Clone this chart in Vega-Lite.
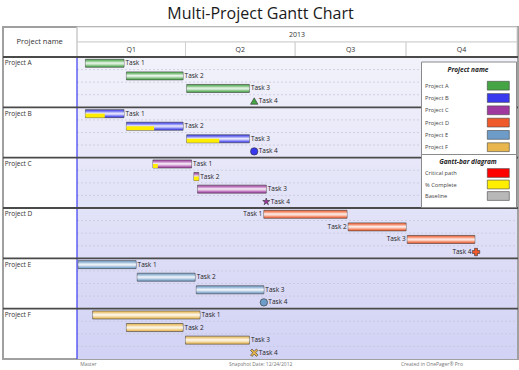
{
  "$schema": "https://vega.github.io/schema/vega-lite/v6.json",
  "background": "white",
  "padding": {"left": 1, "right": 1, "top": 6, "bottom": 0},
  "bounds": "flush",
  "title": {"text": "Multi-Project Gantt Chart", "font": "Open Sans", "fontSize": 16, "fontWeight": "normal", "color": "#1a1a1a", "anchor": "middle", "offset": 3.5},
  "spacing": 0,
  "config": {
    "font": "Open Sans",
    "view": {"stroke": "#a0a0a0", "strokeWidth": 2},
    "legend": {"labelFont": "Open Sans", "titleFont": "Open Sans"}
  },
  "datasets": {
    "header": [
      {"level": "year", "label": "2013", "start": "2013-01-01", "end": "2014-01-01"},
      {"level": "quarter", "label": "Q1", "start": "2013-01-01", "end": "2013-04-01"},
      {"level": "quarter", "label": "Q2", "start": "2013-04-01", "end": "2013-07-01"},
      {"level": "quarter", "label": "Q3", "start": "2013-07-01", "end": "2013-10-01"},
      {"level": "quarter", "label": "Q4", "start": "2013-10-01", "end": "2014-01-01"}
    ],
    "tasks": [
      {"project": "Project A", "task": "Task 1", "row": "Project A / Task 1", "kind": "bar", "start": "2013-01-08", "end": "2013-02-09"},
      {"project": "Project A", "task": "Task 2", "row": "Project A / Task 2", "kind": "bar", "start": "2013-02-11", "end": "2013-03-30"},
      {"project": "Project A", "task": "Task 3", "row": "Project A / Task 3", "kind": "bar", "start": "2013-04-02", "end": "2013-05-24"},
      {"project": "Project A", "task": "Task 4", "row": "Project A / Task 4", "kind": "milestone", "start": "2013-05-28", "end": "2013-05-28"},
      {"project": "Project B", "task": "Task 1", "row": "Project B / Task 1", "kind": "bar", "start": "2013-01-08", "end": "2013-02-09", "done": "2013-01-24"},
      {"project": "Project B", "task": "Task 2", "row": "Project B / Task 2", "kind": "bar", "start": "2013-02-11", "end": "2013-03-30", "done": "2013-03-06"},
      {"project": "Project B", "task": "Task 3", "row": "Project B / Task 3", "kind": "bar", "start": "2013-04-02", "end": "2013-05-24", "done": "2013-04-29"},
      {"project": "Project B", "task": "Task 4", "row": "Project B / Task 4", "kind": "milestone", "start": "2013-05-28", "end": "2013-05-28"},
      {"project": "Project C", "task": "Task 1", "row": "Project C / Task 1", "kind": "bar", "start": "2013-03-05", "end": "2013-04-06", "done": "2013-03-09"},
      {"project": "Project C", "task": "Task 2", "row": "Project C / Task 2", "kind": "bar", "start": "2013-04-08", "end": "2013-04-12", "done": "2013-04-12"},
      {"project": "Project C", "task": "Task 3", "row": "Project C / Task 3", "kind": "bar", "start": "2013-04-11", "end": "2013-06-07"},
      {"project": "Project C", "task": "Task 4", "row": "Project C / Task 4", "kind": "milestone", "start": "2013-06-07", "end": "2013-06-07"},
      {"project": "Project D", "task": "Task 1", "row": "Project D / Task 1", "kind": "bar", "start": "2013-06-05", "end": "2013-08-13"},
      {"project": "Project D", "task": "Task 2", "row": "Project D / Task 2", "kind": "bar", "start": "2013-08-14", "end": "2013-10-01"},
      {"project": "Project D", "task": "Task 3", "row": "Project D / Task 3", "kind": "bar", "start": "2013-10-02", "end": "2013-11-27"},
      {"project": "Project D", "task": "Task 4", "row": "Project D / Task 4", "kind": "milestone", "start": "2013-11-28", "end": "2013-11-28"},
      {"project": "Project E", "task": "Task 1", "row": "Project E / Task 1", "kind": "bar", "start": "2013-01-02", "end": "2013-02-19"},
      {"project": "Project E", "task": "Task 2", "row": "Project E / Task 2", "kind": "bar", "start": "2013-02-20", "end": "2013-04-09"},
      {"project": "Project E", "task": "Task 3", "row": "Project E / Task 3", "kind": "bar", "start": "2013-04-10", "end": "2013-06-05"},
      {"project": "Project E", "task": "Task 4", "row": "Project E / Task 4", "kind": "milestone", "start": "2013-06-05", "end": "2013-06-05"},
      {"project": "Project F", "task": "Task 1", "row": "Project F / Task 1", "kind": "bar", "start": "2013-01-14", "end": "2013-04-13"},
      {"project": "Project F", "task": "Task 2", "row": "Project F / Task 2", "kind": "bar", "start": "2013-02-11", "end": "2013-03-30"},
      {"project": "Project F", "task": "Task 3", "row": "Project F / Task 3", "kind": "bar", "start": "2013-04-01", "end": "2013-05-24"},
      {"project": "Project F", "task": "Task 4", "row": "Project F / Task 4", "kind": "milestone", "start": "2013-05-28", "end": "2013-05-28"}
    ]
  },
  "vconcat": [
    {
      "width": 515,
      "height": 30,
      "data": {"name": "header"},
      "layer": [
        {
          "mark": {"type": "rect", "fill": "white", "stroke": "#d0d0d0", "strokeWidth": 1},
          "encoding": {
            "x": {"field": "start", "type": "temporal", "axis": null,
                  "scale": {"type": "utc", "domain": [{"year": 2013, "month": 1, "date": 1, "utc": true}, {"year": 2014, "month": 1, "date": 1, "utc": true}], "range": [74, 514]}},
            "x2": {"field": "end"},
            "y": {"field": "level", "type": "nominal", "axis": null, "scale": {"domain": ["year", "quarter"], "paddingInner": 0, "paddingOuter": 0}}
          }
        },
        {
          "transform": [{"filter": "datum.level == 'quarter'"}],
          "mark": {"type": "text", "fontSize": 7, "color": "#333", "baseline": "middle"},
          "encoding": {
            "x": {"field": "start", "type": "temporal", "timeUnit": "utcyearquarter", "bandPosition": 0.5, "axis": null},
            "y": {"field": "level", "type": "nominal", "axis": null},
            "text": {"field": "label"}
          }
        },
        {
          "transform": [{"filter": "datum.level == 'year'"}],
          "mark": {"type": "text", "fontSize": 7, "color": "#333", "baseline": "middle"},
          "encoding": {
            "x": {"field": "start", "type": "temporal", "timeUnit": "utcyear", "bandPosition": 0.5, "axis": null},
            "y": {"field": "level", "type": "nominal", "axis": null},
            "text": {"field": "label"}
          }
        },
        {
          "data": {"values": [{"label": "Project name"}]},
          "mark": {"type": "text", "fontSize": 7.5, "color": "#333", "baseline": "middle"},
          "encoding": {
            "x": {"datum": {"year": 2012, "month": 12, "date": 1, "utc": true}, "type": "temporal"},
            "text": {"field": "label"}
          }
        },
        {
          "data": {"values": [{}]},
          "mark": {"type": "rule", "color": "#c8c8c8", "strokeWidth": 1},
          "encoding": {
            "x": {"datum": {"year": 2013, "month": 1, "date": 1, "utc": true}, "type": "temporal"}
          }
        }
      ]
    },
    {
      "width": 515,
      "height": 302,
      "data": {"name": "tasks"},
      "resolve": {"scale": {"fill": "independent"}, "legend": {"fill": "independent"}},
      "layer": [
        {
          "data": {"values": [{}]},
          "mark": {"type": "rect", "fill": {"gradient": "linear", "x1": 0, "y1": 0, "x2": 0, "y2": 1, "stops": [{"offset": 0, "color": "#f2f2fb"}, {"offset": 1, "color": "#d2d2f5"}]}},
          "encoding": {
            "x": {"datum": {"year": 2013, "month": 1, "date": 1, "utc": true}, "type": "temporal",
                  "scale": {"type": "utc", "domain": [{"year": 2013, "month": 1, "date": 1, "utc": true}, {"year": 2014, "month": 1, "date": 1, "utc": true}], "range": [74, 514]}},
            "x2": {"datum": {"year": 2014, "month": 1, "date": 1, "utc": true}}
          }
        },
        {
          "transform": [{"filter": "datum.task != 'Task 1'"}],
          "mark": {"type": "rule", "color": "#c4c4d8", "strokeWidth": 0.7, "strokeDash": [2, 2]},
          "encoding": {
            "y": {"field": "row", "type": "nominal", "sort": "ascending", "axis": null, "bandPosition": 0, "scale": {"paddingInner": 0, "paddingOuter": 0}},
            "x": {"datum": {"year": 2013, "month": 1, "date": 1, "utc": true}, "type": "temporal"},
            "x2": {"datum": {"year": 2014, "month": 1, "date": 1, "utc": true}}
          }
        },
        {
          "data": {"values": [{}]},
          "mark": {"type": "rule", "color": "#3a3af0", "strokeWidth": 1.2},
          "encoding": {
            "x": {"datum": {"year": 2013, "month": 1, "date": 1, "utc": true}, "type": "temporal"}
          }
        },
        {
          "transform": [{"filter": "datum.task == 'Task 1'"}],
          "mark": {"type": "rule", "color": "#4a4a4a", "strokeWidth": 1.8},
          "encoding": {
            "y": {"field": "row", "type": "nominal", "sort": "ascending", "axis": null, "bandPosition": 0}
          }
        },
        {
          "transform": [{"filter": "datum.task == 'Task 1'"}],
          "mark": {"type": "text", "fontSize": 6.5, "color": "#333", "align": "left", "baseline": "middle"},
          "encoding": {
            "x": {"datum": {"year": 2012, "month": 11, "date": 2, "utc": true}, "type": "temporal"},
            "y": {"field": "row", "type": "nominal", "sort": "ascending", "axis": null},
            "text": {"field": "project"}
          }
        },
        {
          "transform": [{"filter": "datum.kind == 'bar'"}],
          "mark": {"type": "bar", "height": 8, "stroke": "#3a3a3a", "strokeWidth": 0.6},
          "encoding": {
            "x": {"field": "start", "type": "temporal",
                  "axis": {"orient": "bottom", "title": null, "domain": false, "ticks": false, "grid": false,
                           "values": [{"year": 2013, "month": 1, "date": 10, "utc": true}, {"year": 2013, "month": 6, "date": 2, "utc": true}, {"year": 2013, "month": 10, "date": 22, "utc": true}],
                           "labelExpr": "utcmonth(datum.value) == 0 ? 'Master' : (utcmonth(datum.value) == 5 ? 'Snapshot Date: 12/24/2012' : 'Created in OnePager® Pro')",
                           "labelFontSize": 5, "labelColor": "#777", "labelPadding": 2, "labelOverlap": false, "labelFlush": false, "labelBound": false}},
            "x2": {"field": "end"},
            "y": {"field": "row", "type": "nominal", "sort": "ascending", "axis": null},
            "fill": {"field": "project", "type": "nominal",
                     "scale": {"domain": ["Project A", "Project B", "Project C", "Project D", "Project E", "Project F"], "range": ["#45a545", "#3838ee", "#a038a0", "#f05a2a", "#6e9cc8", "#e8b64c"]},
                     "legend": {"title": "Project name", "orient": "none", "legendX": 418, "legendY": 4.5,
                                "symbolType": "M14.2,-1.1H19.7V1.1H14.2Z", "symbolSize": 64, "labelOffset": -10,
                                "padding": 5, "titlePadding": 8.2, "rowPadding": -0.7, "strokeColor": "#8a8a8a", "fillColor": "white",
                                "titleAnchor": "middle", "titleFontStyle": "italic", "titleFontWeight": "bold", "titleFontSize": 6.5, "titleColor": "#222",
                                "labelFontSize": 5.7, "labelColor": "#444", "symbolStrokeColor": "#444", "symbolStrokeWidth": 0.6}}
          }
        },
        {
          "transform": [{"filter": "datum.kind == 'bar'"}],
          "mark": {"type": "bar", "height": 8, "strokeWidth": 0,
                   "fill": {"gradient": "linear", "x1": 0, "y1": 0, "x2": 0, "y2": 1, "stops": [
                     {"offset": 0, "color": "rgba(255,255,255,0)"},
                     {"offset": 0.25, "color": "rgba(255,255,255,0.4)"},
                     {"offset": 0.45, "color": "rgba(255,255,255,0.88)"},
                     {"offset": 0.6, "color": "rgba(255,255,255,0.75)"},
                     {"offset": 0.85, "color": "rgba(255,255,255,0.2)"},
                     {"offset": 1, "color": "rgba(255,255,255,0)"}]}},
          "encoding": {
            "x": {"field": "start", "type": "temporal"},
            "x2": {"field": "end"},
            "y": {"field": "row", "type": "nominal", "sort": "ascending", "axis": null}
          }
        },
        {
          "transform": [{"filter": "isValid(datum.done)"}],
          "mark": {"type": "bar", "height": 4, "yOffset": 2},
          "encoding": {
            "x": {"field": "start", "type": "temporal"},
            "x2": {"field": "done"},
            "y": {"field": "row", "type": "nominal", "sort": "ascending", "axis": null},
            "color": {"datum": "% Complete", "type": "nominal",
                      "scale": {"domain": ["Critical path", "% Complete", "Baseline"], "range": ["#ff0000", "#ffee00", "#b8b8b8"]},
                      "legend": {"title": "Gantt-bar diagram", "orient": "none", "legendX": 418, "legendY": 127,
                                 "symbolType": "M14.2,-1.1H19.7V1.1H14.2Z", "symbolSize": 64, "labelOffset": -10,
                                 "padding": 5, "titlePadding": 3, "rowPadding": -1.5, "strokeColor": "#8a8a8a", "fillColor": "white",
                                 "titleAnchor": "middle", "titleFontStyle": "italic", "titleFontWeight": "bold", "titleFontSize": 6.5, "titleColor": "#222",
                                 "labelFontSize": 5.7, "labelColor": "#444", "symbolStrokeColor": "#444", "symbolStrokeWidth": 0.6}}
          }
        },
        {
          "transform": [{"filter": "datum.kind == 'milestone'"}],
          "mark": {"type": "point", "filled": true, "size": 55, "stroke": "#333", "strokeWidth": 0.6, "opacity": 1},
          "encoding": {
            "x": {"field": "start", "type": "temporal"},
            "y": {"field": "row", "type": "nominal", "sort": "ascending", "axis": null},
            "fill": {"field": "project", "type": "nominal", "legend": null,
                     "scale": {"domain": ["Project A", "Project B", "Project C", "Project D", "Project E", "Project F"], "range": ["#45a545", "#3838ee", "#a038a0", "#f05a2a", "#6e9cc8", "#e8b64c"]}},
            "shape": {"field": "project", "type": "nominal", "legend": null,
                      "scale": {"domain": ["Project A", "Project B", "Project C", "Project D", "Project E", "Project F"],
                                "range": ["triangle-up", "circle", "M0,-1L0.2245,-0.309L0.951,-0.309L0.363,0.118L0.588,0.809L0,0.382L-0.588,0.809L-0.363,0.118L-0.951,-0.309L-0.2245,-0.309Z", "cross", "circle", "M-1,-0.6L-0.6,-1L0,-0.4L0.6,-1L1,-0.6L0.4,0L1,0.6L0.6,1L0,0.4L-0.6,1L-1,0.6L-0.4,0Z"]}}
          }
        },
        {
          "transform": [{"filter": "datum.kind == 'bar' && datum.project != 'Project D'"}],
          "mark": {"type": "text", "fontSize": 6.5, "color": "#222", "align": "left", "baseline": "middle", "dx": 1.5},
          "encoding": {
            "x": {"field": "end", "type": "temporal"},
            "y": {"field": "row", "type": "nominal", "sort": "ascending", "axis": null},
            "text": {"field": "task"}
          }
        },
        {
          "transform": [{"filter": "datum.kind == 'milestone' && datum.project != 'Project D'"}],
          "mark": {"type": "text", "fontSize": 6.5, "color": "#222", "align": "left", "baseline": "middle", "dx": 4.5},
          "encoding": {
            "x": {"field": "start", "type": "temporal"},
            "y": {"field": "row", "type": "nominal", "sort": "ascending", "axis": null},
            "text": {"field": "task"}
          }
        },
        {
          "transform": [{"filter": "datum.kind == 'bar' && datum.project == 'Project D'"}],
          "mark": {"type": "text", "fontSize": 6.5, "color": "#222", "align": "right", "baseline": "middle", "dx": -1.5},
          "encoding": {
            "x": {"field": "start", "type": "temporal"},
            "y": {"field": "row", "type": "nominal", "sort": "ascending", "axis": null},
            "text": {"field": "task"}
          }
        },
        {
          "transform": [{"filter": "datum.kind == 'milestone' && datum.project == 'Project D'"}],
          "mark": {"type": "text", "fontSize": 6.5, "color": "#222", "align": "right", "baseline": "middle", "dx": -4.5},
          "encoding": {
            "x": {"field": "start", "type": "temporal"},
            "y": {"field": "row", "type": "nominal", "sort": "ascending", "axis": null},
            "text": {"field": "task"}
          }
        }
      ]
    }
  ]
}
